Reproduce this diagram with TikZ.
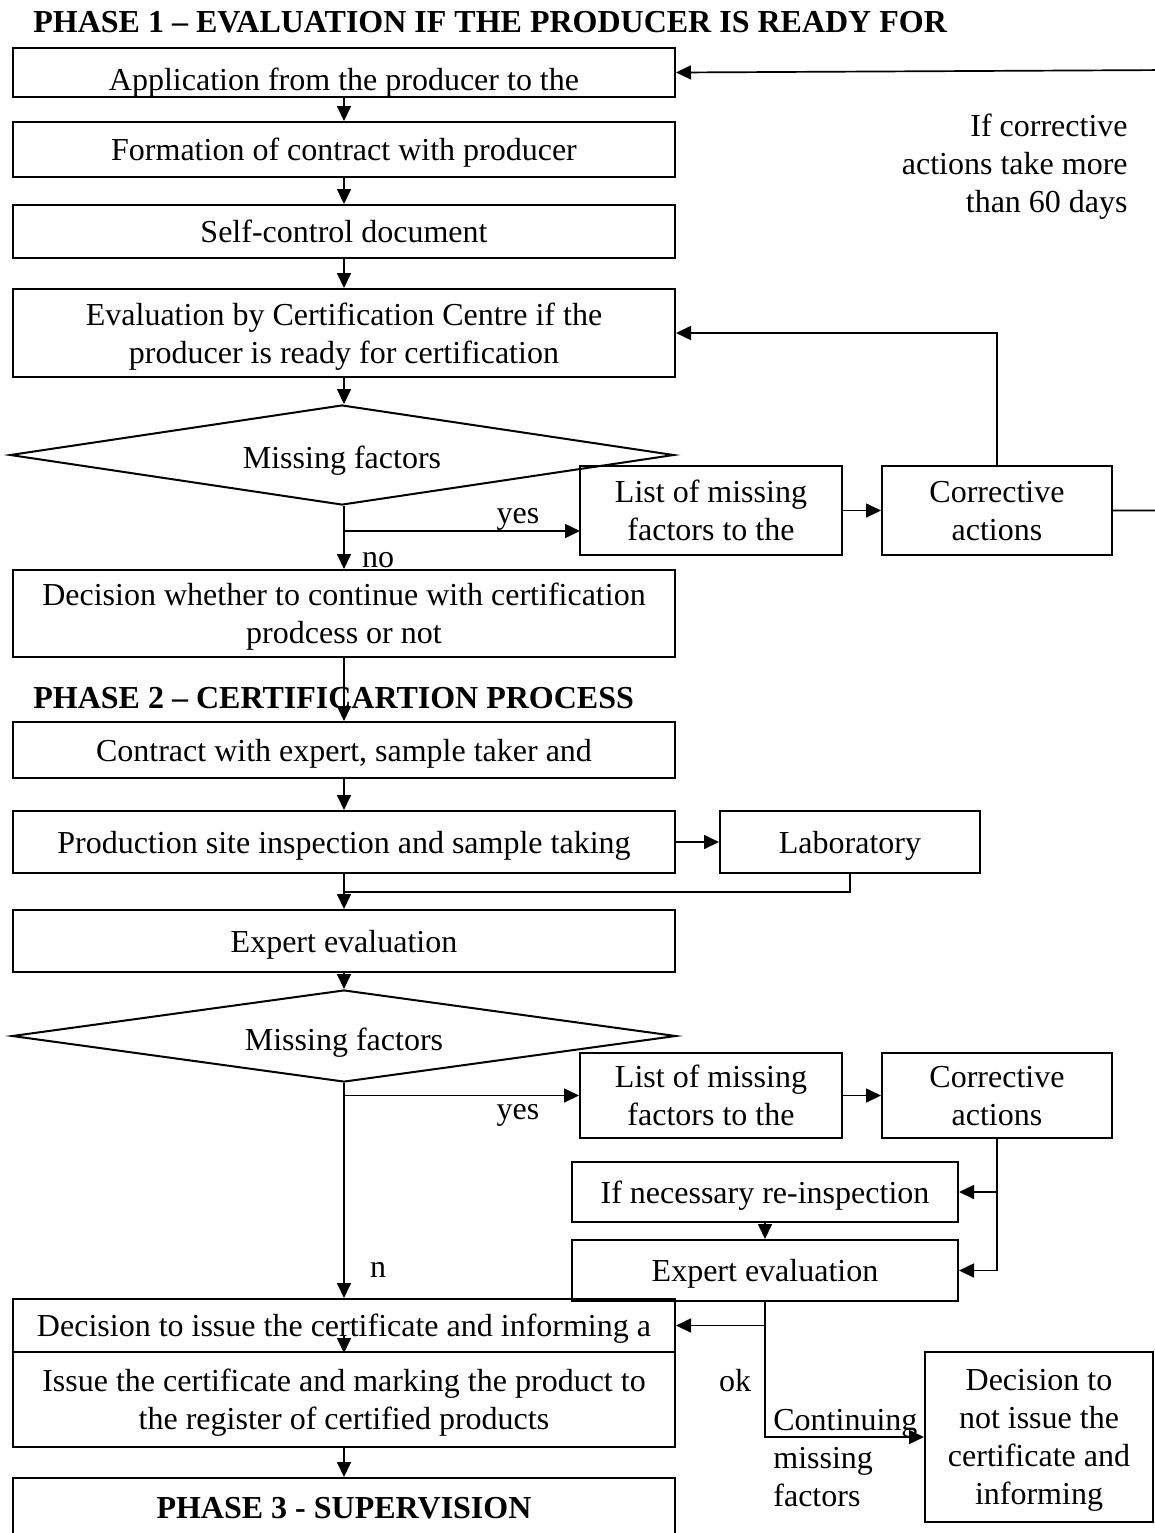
\documentclass[tikz,border=0pt]{standalone}
\usepackage{fontspec}
\setmainfont{Liberation Serif}
\usetikzlibrary{arrows.meta,shapes.geometric,positioning}
\tikzset{
  stage/.style={draw, line width=1pt, align=center, inner sep=1pt, text depth=0pt, minimum width=331pt, minimum height=#1},
  side/.style={draw, line width=1pt, align=center, inner sep=1pt, text depth=0pt, minimum width=#1},
  test/.style={draw, line width=1pt, shape=diamond, aspect=7, inner sep=0pt, text depth=0pt, minimum width=332pt, minimum height=#1},
  arr/.style={line width=0.85pt, -{Triangle[length=7.5pt,width=7pt]}},
  lbl/.style={inner sep=0pt},
  phase/.style={inner sep=0pt, anchor=west, font=\fontsize{16}{19}\selectfont\bfseries}
}
\begin{document}
\begin{tikzpicture}[x=0.5pt, y=-0.5pt, every node/.append style={font=\fontsize{16}{19}\selectfont}]
  \useasboundingbox (0,0) rectangle (1155,1533);
  % phase 1
  \node(ph1)[phase] at (33,22) {PHASE 1 -- EVALUATION IF THE PRODUCER IS READY FOR};
  \node(app)[stage=24.5pt, text height=18pt] at (344,72.5) {Application from the producer to the};
  \node(contract)[stage=27.5pt] at (344,149.5) {Formation of contract with producer};
  \node(selfctrl)[stage=26.5pt] at (344,231.5) {Self-control document};
  \node(evalcc)[stage=44pt] at (344,333) {Evaluation by Certification Centre if the\\producer is ready for certification};
  \node(test1)[test=50pt, text height=13pt] at (342,455) {Missing factors};
  \node(list1)[side=131pt, minimum height=44.5pt] at (711,510.5) {List of missing\\factors to the};
  \node(fix1)[side=115pt, minimum height=44.5pt, right=19pt of list1] {Corrective\\actions};
  \node(decide)[stage=43.5pt] at (344,613.5) {Decision whether to continue with certification\\prodcess or not};
  \node(late)[lbl, anchor=east, align=right] at (1128,167) {If corrective\\actions take more\\than 60 days};
  \node(yes1)[lbl] at (518,519) {yes};
  \node(no1)[lbl] at (378,560) {no};
  \coordinate(back) at (1170,70);
  \coordinate(yes1in) at (580,531);
  \coordinate(yes1out) at (344,531);
  \scriptsize
  \path[arr] (app) edge (contract) (contract) edge (selfctrl) (selfctrl) edge (evalcc)
    (evalcc) edge (evalcc |- test1.north) (test1.south -| decide) edge (decide) (list1) edge (fix1);
  \draw[arr] (yes1out) -- (yes1in);
  \draw[arr] (fix1.north) |- (evalcc.east);
  \draw[arr] (fix1.east) -| (back) -- (app.east);
  % phase 2
  \node(ph2)[phase] at (33,698) {PHASE 2 -- CERTIFICARTION PROCESS};
  \node(expert)[stage=28pt] at (344,750) {Contract with expert, sample taker and};
  \node(inspect)[stage=31pt] at (344,842) {Production site inspection and sample taking};
  \node(lab)[side=130pt, minimum height=31pt, right=21.5pt of inspect] {Laboratory};
  \node(review)[stage=31pt] at (344,941) {Expert evaluation};
  \node(test2)[test=46pt, text height=14pt] at (344,1036) {Missing factors};
  \node(list2)[side=131pt, minimum height=42.5pt] at (711,1095.5) {List of missing\\factors to the};
  \node(fix2)[side=115pt, minimum height=42.5pt, right=19pt of list2] {Corrective\\actions};
  \node(reinsp)[side=193pt, minimum height=30pt] at (765,1192) {If necessary re-inspection};
  \node(review2)[side=193pt, minimum height=30.5pt, below=8pt of reinsp] {Expert evaluation};
  \node(grant)[stage=26.5pt] at (344,1325.5) {Decision to issue the certificate and informing a};
  \node(issue)[stage=47.5pt] at (344,1399.5) {Issue the certificate and marking the product to\\the register of certified products};
  \node(refuse)[side=114pt, minimum height=85pt] at (1039,1437) {Decision to\\not issue the\\certificate and\\informing};
  \node(phase3)[stage=30pt, font=\fontsize{16}{19}\selectfont\bfseries] at (344,1508) {PHASE 3 - SUPERVISION};
  \node(yes2)[lbl] at (518,1115) {yes};
  \node(n2)[lbl] at (378,1270) {n};
  \node(ok)[lbl] at (735,1381) {ok};
  \node(cont)[lbl, anchor=west, align=left] at (773,1458) {Continuing\\missing\\factors};
  \coordinate(join) at (344,892);
  \coordinate(split) at (765,1437);
  \path[arr] (decide) edge (expert) (expert) edge (inspect) (inspect) edge (lab)
    (inspect) edge (review) (review) edge (test2.north) (test2.south) edge (grant)
    (list2) edge (fix2) (reinsp) edge (review2) (issue) edge (phase3);
  \draw[line width=0.85pt] (lab.south) |- (join);
  \draw[arr] (test2.south |- list2.west) -- (list2.west);
  \draw[arr] (fix2.south) |- (reinsp.east);
  \draw[arr] (fix2.south) |- (review2.east);
  \draw[arr] (review2.south) |- (grant.east);
  \draw[arr] (review2.south) -- (split) -- (refuse.west);
  \draw[arr] ([yshift=9pt]grant.south) -- (grant.south);
\end{tikzpicture}
\end{document}
